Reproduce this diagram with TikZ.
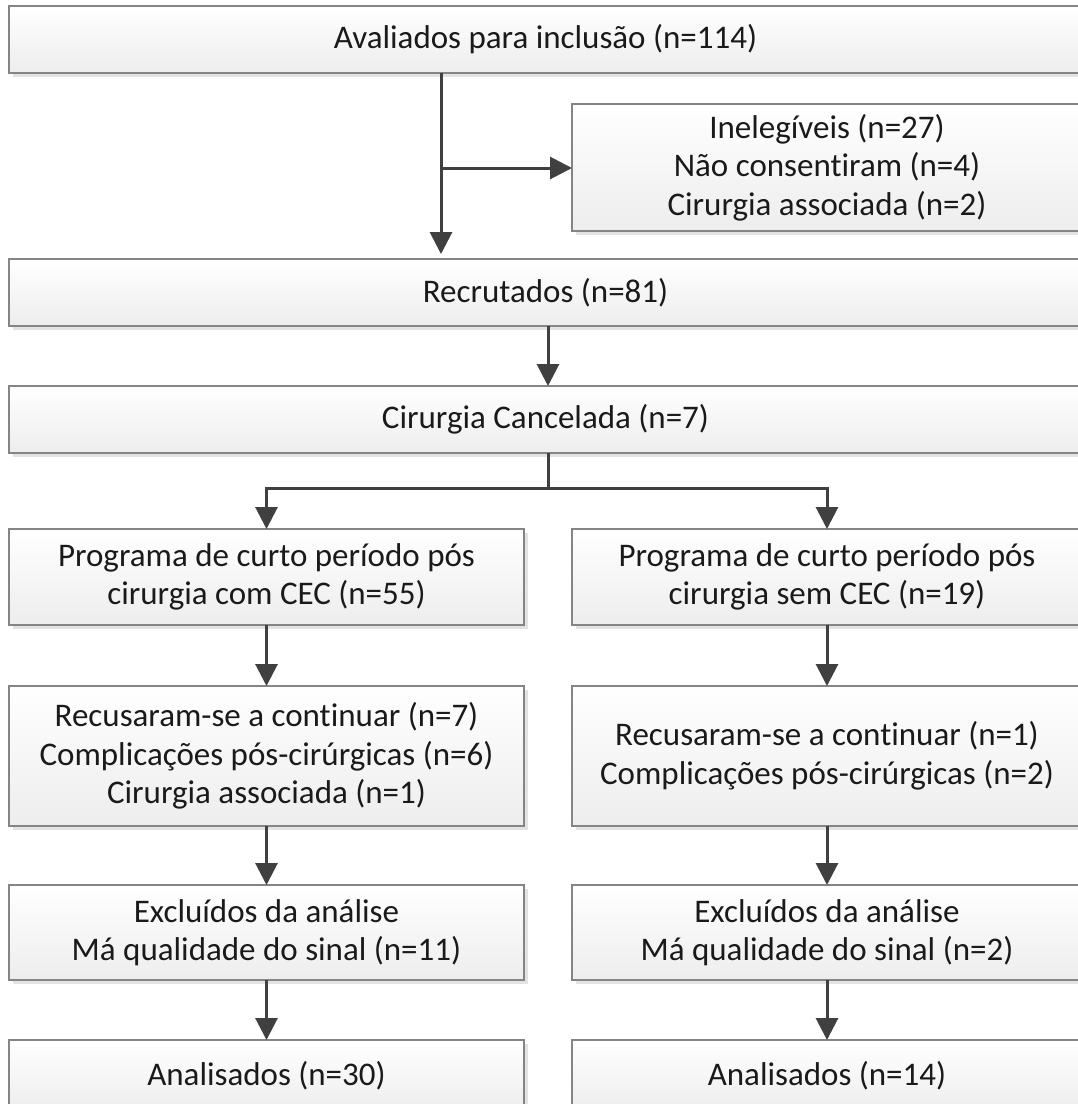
\documentclass[tikz,border=0pt]{standalone}
\usepackage{fontspec}
\setmainfont{Carlito}[Ligatures=NoCommon]
\usetikzlibrary{arrows.meta,shadows}
\definecolor{arrowc}{HTML}{404040}
\definecolor{boxline}{HTML}{858585}
\definecolor{txt}{HTML}{1A1A1A}
\tikzset{
  fbox/.style={draw=boxline, line width=1.3pt, top color=white, bottom color=black!7,
    drop shadow={shadow xshift=4pt, shadow yshift=-4pt, fill=black!11, opacity=1},
    inner sep=0pt, outer sep=0pt, align=center, text=txt,
    font=\fontsize{33}{38.5}\selectfont},
  conn/.style={draw=arrowc, line width=3pt},
  arr/.style={conn, -{Triangle[length=22pt,width=22pt]}}
}
\begin{document}
\begin{tikzpicture}[x=1pt,y=-1pt]
\clip (0,0) rectangle (1078,1104);
\useasboundingbox (0,0) rectangle (1078,1104);
\fill[white] (0,0) rectangle (1078,1104);
\node[fbox, minimum width=1073pt, minimum height=67pt] (top) at (545.5,39.5) {Avaliados para inclusão (n=114)};
\node[fbox, minimum width=510pt, minimum height=127pt] (inel) at (827,167.5) {Inelegíveis (n=27)\\Não consentiram (n=4)\\Cirurgia associada (n=2)};
\node[fbox, minimum width=1073pt, minimum height=67pt] (recr) at (545.5,292.5) {Recrutados (n=81)};
\node[fbox, minimum width=1073pt, minimum height=67pt] (canc) at (545.5,419.5) {Cirurgia Cancelada (n=7)};
\node[fbox, minimum width=515pt, minimum height=96pt] (L1) at (266.5,577) {Programa de curto período pós\\cirurgia com CEC (n=55)};
\node[fbox, minimum width=510pt, minimum height=96pt] (R1) at (827,577) {Programa de curto período pós\\cirurgia sem CEC (n=19)};
\node[fbox, minimum width=515pt, minimum height=140pt] (L2) at (266.5,756) {Recusaram-se a continuar (n=7)\\Complicações pós-cirúrgicas (n=6)\\Cirurgia associada (n=1)};
\node[fbox, minimum width=510pt, minimum height=140pt] (R2) at (827,756) {Recusaram-se a continuar (n=1)\\Complicações pós-cirúrgicas (n=2)};
\node[fbox, minimum width=515pt, minimum height=95pt] (L3) at (266.5,932.5) {Excluídos da análise\\Má qualidade do sinal (n=11)};
\node[fbox, minimum width=510pt, minimum height=95pt] (R3) at (827,932.5) {Excluídos da análise\\Má qualidade do sinal (n=2)};
\node[fbox, minimum width=515pt, minimum height=72pt] (L4) at (266.5,1076) {Analisados (n=30)};
\node[fbox, minimum width=510pt, minimum height=72pt] (R4) at (827,1076) {Analisados (n=14)};
\coordinate (j) at (441,168);
\coordinate (b) at (548,488);
\draw[conn] (top.south -| j) -- (j);
\draw[arr, shorten >=5pt] (j) -- (recr.north -| j);
\draw[arr] (j) -- (j -| inel.west);
\draw[arr] (recr.south -| b) -- (canc.north -| b);
\draw[conn] (canc.south -| b) -- (b);
\draw[arr] (b) -| (L1.north);
\draw[arr] (b) -| (R1.north);
\draw[arr] (L1) -- (L2);
\draw[arr] (R1) -- (R2);
\draw[arr] (L2) -- (L3);
\draw[arr] (R2) -- (R3);
\draw[arr] (L3) -- (L4);
\draw[arr] (R3) -- (R4);
\end{tikzpicture}
\end{document}
